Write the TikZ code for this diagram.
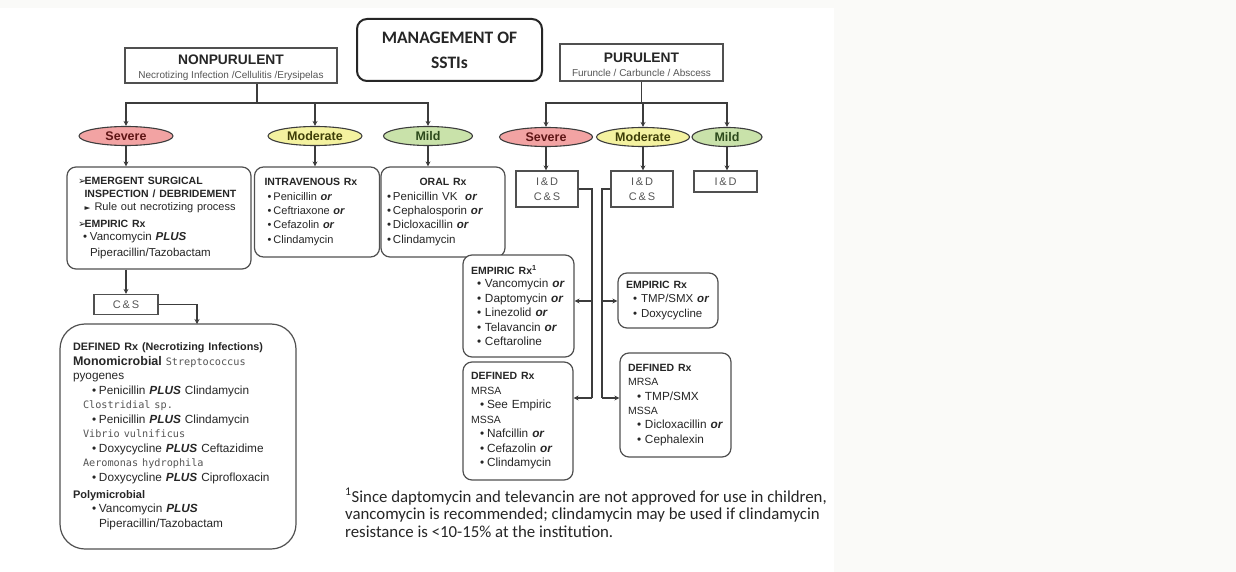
\documentclass[tikz,border=0pt]{standalone}
\usepackage{fontspec}
\setmainfont{Liberation Sans}
\newfontfamily\calf{Carlito}
\newfontfamily\symf{DejaVu Sans}
\newfontfamily\monof{DejaVu Sans Mono}
\usetikzlibrary{shapes.geometric,arrows.meta,calc}
\definecolor{linec}{HTML}{3C3C3C}
\definecolor{boxc}{HTML}{505050}
\definecolor{txtc}{HTML}{262626}
\definecolor{subc}{HTML}{555555}
\definecolor{bgc}{HTML}{FAFAF8}
\definecolor{sevfill}{HTML}{F2A3A3}
\definecolor{modfill}{HTML}{F4F2A0}
\definecolor{mildfill}{HTML}{C9E2AA}
\definecolor{sevtxt}{HTML}{5E1515}
\definecolor{modtxt}{HTML}{3E3E08}
\definecolor{mildtxt}{HTML}{2C4A1C}
\setlength{\parindent}{0pt}
\newcommand{\bul}[1]{\makebox[#1][l]{•}}
\newcommand{\bi}[1]{\textbf{\textit{#1}}}
\newcommand{\hd}[1]{{\fontsize{10.5}{10.5}\selectfont\bfseries #1}}
\newcommand{\arrsym}{\makebox[6.5pt][l]{\symf\fontsize{10}{10}\selectfont ➢}}
\newcommand{\mono}[1]{{\monof\fontsize{10.2}{10.2}\selectfont\color{subc}#1}}
\begin{document}
\begin{tikzpicture}[x=1pt,y=-1pt,
  hdrbox/.style={draw=boxc, line width=1.1pt, fill=white, inner sep=0pt},
  lbox/.style={draw=boxc, line width=1.2pt, rounded corners=9pt, fill=white, align=left, inner ysep=0pt, text=txtc},
  ell/.style={ellipse, draw=linec, line width=1.1pt, inner sep=0pt, minimum height=19pt, font=\bfseries\fontsize{12.5}{12.5}\selectfont},
  sq/.style={draw=boxc, line width=1.2pt, fill=white, inner sep=0pt, align=center, text=subc, font=\fontsize{11}{15}\selectfont},
  conn/.style={draw=linec, line width=1.4pt},
  arr/.style={conn, -{Stealth[length=5pt,width=5pt]}}
]
\useasboundingbox (0,0) rectangle (1236,572);
\fill[bgc] (0,0) rectangle (1236,572);
\fill[white] (0,8) rectangle (834,572);

% title
\node[draw=black!85, line width=2pt, rounded corners=10pt, minimum width=185pt, minimum height=62pt, fill=white, align=center, text=black!85, font=\calf\bfseries\fontsize{17.5}{25}\selectfont] (title) at (449.5,50) {MANAGEMENT OF\\SSTIs};

% headers
\node[hdrbox, minimum width=212pt, minimum height=35pt] (np) at (231,65.5) {};
\node[font=\bfseries\fontsize{13.8}{13.8}\selectfont, text=txtc, inner sep=0pt] (npt) at (231,60) {NONPURULENT};
\node[font=\fontsize{10}{10}\selectfont, text=subc, inner sep=0pt] (nps) at (231,76) {Necrotizing Infection /Cellulitis /Erysipelas};

\node[hdrbox, minimum width=163pt, minimum height=37pt] (pur) at (641.5,62.5) {};
\node[font=\bfseries\fontsize{13.8}{13.8}\selectfont, text=txtc, inner sep=0pt] (purt) at (641.5,57.5) {PURULENT};
\node[font=\fontsize{10}{10}\selectfont, text=subc, inner sep=0pt] (purs) at (641.5,72.5) {Furuncle / Carbuncle / Abscess};

% ellipses
\node[ell, fill=sevfill, text=sevtxt, minimum width=94pt] (sevL) at (126,136) {Severe};
\node[ell, fill=modfill, text=modtxt, minimum width=94pt] (modL) at (315,136) {Moderate};
\node[ell, fill=mildfill, text=mildtxt, minimum width=89pt] (mildL) at (428,136) {Mild};
\node[ell, fill=sevfill, text=sevtxt, minimum width=93pt] (sevR) at (546,137) {Severe};
\node[ell, fill=modfill, text=modtxt, minimum width=93pt] (modR) at (643,137) {Moderate};
\node[ell, fill=mildfill, text=mildtxt, minimum width=70pt] (mildR) at (727,137) {Mild};

% left boxes
\node[lbox, text width=162pt, inner xsep=11pt, minimum height=102pt, font=\fontsize{11.5}{13}\selectfont] (sevbox) at (159,218) {%
\arrsym\hd{EMERGENT SURGICAL}\\
\hspace*{6.5pt}\hd{INSPECTION / DEBRIDEMENT}\\
\hspace*{6.5pt}\makebox[10pt][l]{\symf\fontsize{7.5}{7.5}\selectfont ►}{\fontsize{11}{11}\selectfont Rule out necrotizing process}\\[4pt]
\arrsym\hd{EMPIRIC Rx}\\
\hspace*{5pt}\bul{7pt}Vancomycin \bi{PLUS}\\[3pt]
\hspace*{12pt}Piperacillin/Tazobactam};

\node[lbox, text width=105pt, inner xsep=10pt, minimum height=90pt, font=\fontsize{11}{14.3}\selectfont] (ivbox) at (317,212) {%
\hd{INTRAVENOUS Rx}\\
\hspace*{3pt}\bul{6pt}Penicillin \bi{or}\\
\hspace*{3pt}\bul{6pt}Ceftriaxone \bi{or}\\
\hspace*{3pt}\bul{6pt}Cefazolin \bi{or}\\
\hspace*{3pt}\bul{6pt}Clindamycin};

\node[lbox, text width=112pt, inner xsep=6pt, minimum height=90pt, font=\fontsize{11.5}{14.3}\selectfont] (oralbox) at (443,212) {%
\makebox[112pt][c]{\hd{ORAL Rx}}\\
\bul{6pt}Penicillin VK\ \ \bi{or}\\
\bul{6pt}Cephalosporin \bi{or}\\
\bul{6pt}Dicloxacillin \bi{or}\\
\bul{6pt}Clindamycin};

\node[sq, minimum width=64pt, minimum height=20pt] (cs) at (126,304.5) {C\,\&\,S};

\node[lbox, rounded corners=25pt, text width=210pt, inner xsep=13pt, minimum height=225pt, font=\fontsize{11.8}{14.5}\selectfont] (defbig) at (178,436.5) {%
{\fontsize{10.8}{10.8}\selectfont\bfseries DEFINED Rx (Necrotizing Infections)}\\
{\fontsize{12.5}{12.5}\selectfont\bfseries Monomicrobial} \mono{Streptococcus}\\
pyogenes\\
\hspace*{19pt}\bul{7pt}Penicillin \bi{PLUS} Clindamycin\\
\hspace*{10pt}\mono{Clostridial sp.}\\
\hspace*{19pt}\bul{7pt}Penicillin \bi{PLUS} Clindamycin\\
\hspace*{10pt}\mono{Vibrio vulnificus}\\
\hspace*{19pt}\bul{7pt}Doxycycline \bi{PLUS} Ceftazidime\\
\hspace*{10pt}\mono{Aeromonas hydrophila}\\
\hspace*{19pt}\bul{7pt}Doxycycline \bi{PLUS} Ciprofloxacin\\[2.5pt]
{\fontsize{11}{11}\selectfont\bfseries Polymicrobial}\\
\hspace*{19pt}\bul{7pt}Vancomycin \bi{PLUS}\\
\hspace*{26pt}Piperacillin/Tazobactam};

% right boxes
\node[sq, minimum width=62pt, minimum height=36pt] (idS) at (547,189) {I\,\&\,D\\C\,\&\,S};
\node[sq, minimum width=62pt, minimum height=36pt] (idM) at (642,189) {I\,\&\,D\\C\,\&\,S};
\node[sq, minimum width=63pt, minimum height=21pt] (idMi) at (725.5,181.5) {I\,\&\,D};

\node[lbox, text width=95pt, inner xsep=8pt, minimum height=102pt, font=\fontsize{11.8}{14.5}\selectfont] (empL) at (518.5,306) {%
\hd{EMPIRIC Rx\textsuperscript{1}}\\[-1.5pt]
\hspace*{6pt}\bul{8pt}Vancomycin \bi{or}\\
\hspace*{6pt}\bul{8pt}Daptomycin \bi{or}\\
\hspace*{6pt}\bul{8pt}Linezolid \bi{or}\\
\hspace*{6pt}\bul{8pt}Telavancin \bi{or}\\
\hspace*{6pt}\bul{8pt}Ceftaroline};

\node[lbox, text width=94pt, inner xsep=8pt, minimum height=118pt, font=\fontsize{11.8}{14.5}\selectfont] (defL) at (518,421) {%
\hd{DEFINED Rx}\\
{\fontsize{10.5}{10.5}\selectfont MRSA}\\
\hspace*{9pt}\bul{7pt}See Empiric\\
{\fontsize{10.5}{10.5}\selectfont MSSA}\\
\hspace*{9pt}\bul{7pt}Nafcillin \bi{or}\\
\hspace*{9pt}\bul{7pt}Cefazolin \bi{or}\\
\hspace*{9pt}\bul{7pt}Clindamycin};

\node[lbox, text width=88pt, inner xsep=6pt, minimum height=55pt, font=\fontsize{11.5}{14.5}\selectfont] (empR) at (668,300.5) {%
\hspace*{2pt}\hd{EMPIRIC Rx}\\
\hspace*{9pt}\bul{8pt}\mbox{TMP/SMX \bi{or}}\\
\hspace*{9pt}\bul{8pt}Doxycycline};

\node[lbox, text width=95pt, inner xsep=8pt, minimum height=104pt, font=\fontsize{11.8}{14.3}\selectfont] (defR) at (675.5,405) {%
\hd{DEFINED Rx}\\
{\fontsize{10.5}{10.5}\selectfont MRSA}\\
\hspace*{9pt}\bul{8pt}TMP/SMX\\
{\fontsize{10.5}{10.5}\selectfont MSSA}\\
\hspace*{9pt}\bul{8pt}Dicloxacillin \bi{or}\\
\hspace*{9pt}\bul{8pt}Cephalexin};

% footnote
\node[anchor=north west, align=left, inner sep=0pt, text=txtc, font=\calf\fontsize{16.8}{17.6}\selectfont] (fn) at (345,488) {\textsuperscript{1}Since daptomycin and televancin are not approved for use in children,\\vancomycin is recommended; clindamycin may be used if clindamycin\\resistance is <10-15\% at the institution.};

% connectors left
\coordinate (npj) at (257,103);
\draw[conn] (npj |- np.south) -- (npj);
\draw[arr] (npj) -| (sevL.north);
\draw[arr] (npj) -| (modL.north);
\draw[arr] (npj) -| (mildL.north);
\draw[arr] (sevL.south) -- (sevL.south |- sevbox.north);
\draw[arr] (modL.south) -- (modL.south |- ivbox.north);
\draw[arr] (mildL.south) -- (mildL.south |- oralbox.north);
\draw[arr] (cs.north |- sevbox.south) -- (cs.north);
\coordinate (defin) at (197,324);
\draw[arr] (cs.east) -| (defin);

% connectors right
\coordinate (pj) at (641.5,103);
\draw[conn] (pur.south) -- (pj);
\draw[arr] (pj) -| (sevR.north);
\draw[arr] (pj) -| (modR.north);
\draw[arr] (pj) -| (mildR.north);
\draw[arr] (sevR.south) -- (sevR.south |- idS.north);
\draw[arr] (modR.south) -- (modR.south |- idM.north);
\draw[arr] (mildR.south) -- (mildR.south |- idMi.north);

\coordinate (bL1) at (592,301);
\coordinate (bL2) at (592,398);
\coordinate (bR1) at (602,301);
\coordinate (bR2) at (602,398);
\draw[conn] (idS.east) -| (bL2);
\draw[conn] (idM.west) -| (bR2);
\draw[arr] (bL1) -- (bL1 -| empL.east);
\draw[arr] (bL2) -- (bL2 -| defL.east);
\draw[arr] (bR1) -- (bR1 -| empR.west);
\draw[arr] (bR2) -- (bR2 -| defR.west);
\end{tikzpicture}
\end{document}
